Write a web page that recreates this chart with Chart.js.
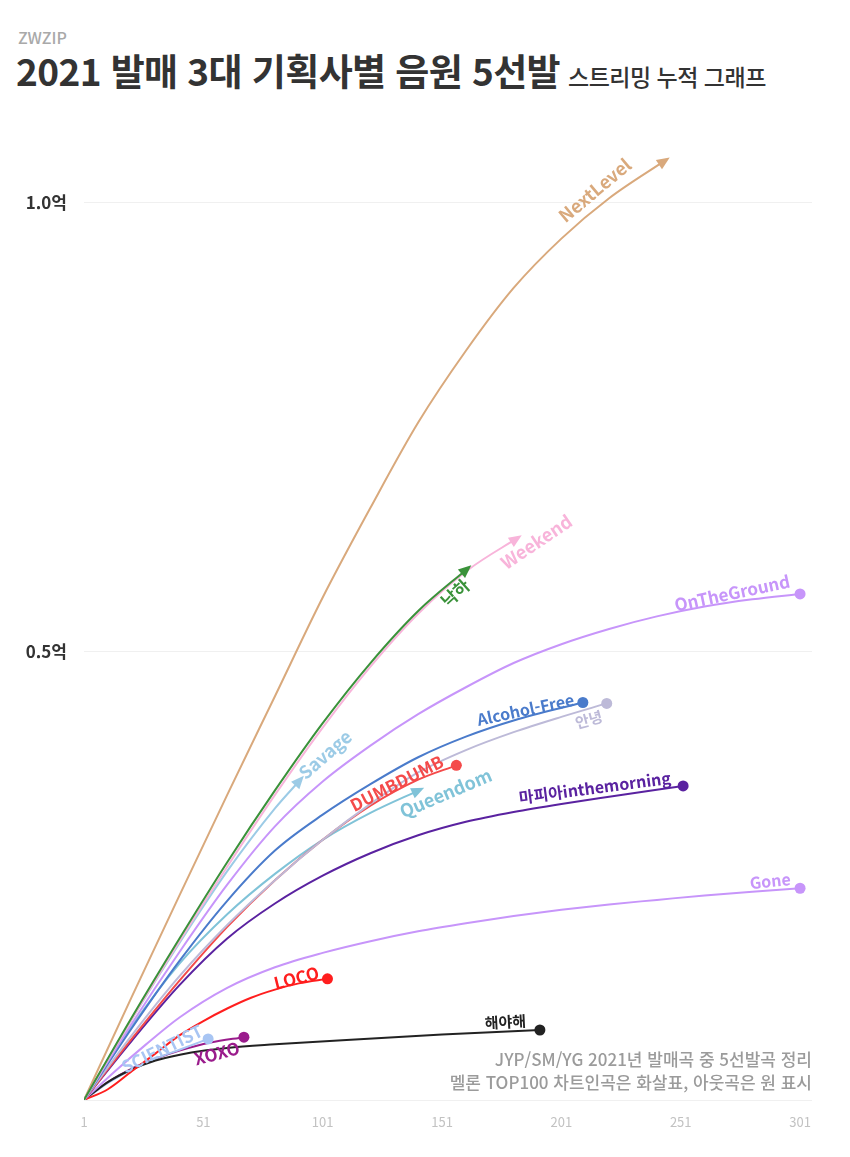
<!DOCTYPE html>
<html lang="ko">
<head>
<meta charset="utf-8">
<script src="https://cdn.jsdelivr.net/npm/chart.js@4.4.1/dist/chart.umd.min.js"></script>
<style>
  html, body { margin: 0; padding: 0; background: #fff; }
  body { width: 850px; height: 1157px; position: relative; overflow: hidden;
         font-family: 'Noto Sans CJK KR', 'Noto Sans', sans-serif; }
  #brand { position: absolute; left: 18px; top: 29px; font-size: 16px; line-height: 16px; font-weight: 500; color: #a9a9a9; }
  #title { position: absolute; left: 16px; top: 52px; font-size: 37px; line-height: 37px; font-weight: 700; color: #333; letter-spacing: -0.6px; white-space: nowrap; }
  #title span { font-size: 23px; font-weight: 500; margin-left: 8px; letter-spacing: -0.5px; }
  #note { position: absolute; right: 38px; top: 1047px; text-align: right; font-size: 17px; line-height: 23px; font-weight: 500; color: #9b9b9b; white-space: nowrap; }
  canvas { position: absolute; left: 0; top: 0; }
</style>
</head>
<body>
<div id="brand">ZWZIP</div>
<div id="title">2021 발매 3대 기획사별 음원 5선발<span>스트리밍 누적 그래프</span></div>
<canvas id="chart" width="850" height="1157"></canvas>
<div id="note">JYP/SM/YG 2021년 발매곡 중 5선발곡 정리<br>멜론 TOP100 차트인곡은 화살표, 아웃곡은 원 표시</div>
<script>
// 누적 스트리밍 (단위: 억) - [발매 후 일수, 누적값]
const nextLevel   = [[1,0],[21,0.115],[41,0.228],[61,0.34],[81,0.45],[101,0.56],[121,0.66],[141,0.755],[161,0.835],[181,0.905],[201,0.96],[221,1.005],[245,1.048]];
const nakha       = [[1,0],[21,0.092],[41,0.18],[61,0.265],[81,0.345],[101,0.42],[121,0.487],[141,0.545],[162,0.593]];
const weekend     = [[1,0],[21,0.09],[41,0.177],[61,0.26],[81,0.34],[101,0.415],[121,0.483],[141,0.542],[162,0.591],[183,0.627]];
const savage      = [[1,0],[21,0.09],[41,0.175],[61,0.255],[81,0.325],[92,0.358]];
const onTheGround = [[1,0],[21,0.085],[41,0.165],[61,0.24],[81,0.305],[101,0.355],[121,0.395],[141,0.43],[161,0.46],[181,0.487],[201,0.508],[221,0.525],[241,0.539],[261,0.55],[281,0.558],[301,0.564]];
const alcoholFree = [[1,0],[21,0.08],[41,0.155],[61,0.222],[81,0.278],[101,0.318],[121,0.352],[141,0.382],[161,0.405],[181,0.423],[210,0.443]];
const annyeong    = [[1,0],[21,0.072],[41,0.138],[61,0.195],[81,0.245],[101,0.29],[121,0.33],[141,0.365],[161,0.39],[181,0.41],[201,0.427],[220,0.442]];
const dumbdumb    = [[1,0],[21,0.068],[41,0.133],[61,0.193],[81,0.245],[101,0.29],[121,0.328],[141,0.357],[157,0.373]];
const queendom    = [[1,0],[21,0.082],[41,0.152],[61,0.207],[81,0.252],[101,0.29],[121,0.32],[142,0.346]];
const mafia       = [[1,0],[21,0.066],[41,0.128],[61,0.18],[81,0.219],[101,0.25],[121,0.275],[141,0.295],[161,0.31],[181,0.321],[201,0.33],[221,0.338],[252,0.35]];
const gone        = [[1,0],[14,0.032],[27,0.062],[41,0.092],[61,0.125],[81,0.148],[101,0.164],[121,0.177],[141,0.188],[161,0.197],[181,0.205],[201,0.212],[221,0.218],[241,0.223],[261,0.228],[281,0.232],[301,0.236]];
const loco        = [[1,0],[11,0.012],[21,0.032],[31,0.052],[41,0.072],[51,0.088],[61,0.102],[71,0.114],[81,0.123],[91,0.13],[103,0.135]];
const haeyahae    = [[1,0],[11,0.02],[21,0.034],[31,0.044],[46,0.053],[61,0.058],[81,0.062],[111,0.067],[151,0.073],[192,0.078]];
const scientist   = [[1,0],[11,0.019],[21,0.034],[31,0.046],[41,0.056],[53,0.068]];
const xoxo        = [[1,0],[11,0.02],[21,0.035],[31,0.046],[41,0.055],[54,0.064],[68,0.07]];

const xTicks = [1, 51, 101, 151, 201, 251, 301];
const yTicks = [0, 0.5, 1.0];
const yTickLabels = ['', '0.5억', '1.0억'];

// 곡 이름, 데이터, 색, 끝 표시(arrow = 차트인, dot = 아웃)
const songs = [
  { name: '낙하', data: nakha, color: '#3a923a', end: 'arrow' },
  { name: 'Weekend', data: weekend, color: '#f8b4da', end: 'arrow' },
  { name: 'NextLevel', data: nextLevel, color: '#d9a97c', end: 'arrow' },
  { name: 'Savage', data: savage, color: '#9ccbe6', end: 'arrow' },
  { name: 'OnTheGround', data: onTheGround, color: '#c795fa', end: 'dot' },
  { name: 'Alcohol-Free', data: alcoholFree, color: '#4a7bcb', end: 'dot' },
  { name: '안녕', data: annyeong, color: '#bdbad8', end: 'dot' },
  { name: 'DUMBDUMB', data: dumbdumb, color: '#f44a4a', end: 'dot' },
  { name: 'Queendom', data: queendom, color: '#80c3d8', end: 'arrow' },
  { name: '마피아inthemorning', data: mafia, color: '#5a22a0', end: 'dot' },
  { name: 'Gone', data: gone, color: '#c795fa', end: 'dot' },
  { name: 'LOCO', data: loco, color: '#ff1e1e', end: 'dot' },
  { name: '해야해', data: haeyahae, color: '#222222', end: 'dot' },
  { name: 'SCIENTIST', data: scientist, color: '#a8c5f3', end: 'dot' },
  { name: 'XOXO', data: xoxo, color: '#9a1c8c', end: 'dot' }
];

// 곡 이름 라벨 위치 (데이터 좌표) 과 기울기
const labelSpots = {
  'NextLevel': { at: [215, 1.014], angle: -40, size: 18 },
  'Weekend': { at: [190.5, 0.622], angle: -34, size: 18 },
  '낙하': { at: [156.5, 0.565], angle: -42, size: 17 },
  'OnTheGround': { at: [272.5, 0.565], angle: -12, size: 17 },
  'Alcohol-Free': { at: [186, 0.435], angle: -12, size: 16 },
  '안녕': { at: [212.5, 0.424], angle: -15, size: 15 },
  'Savage': { at: [102, 0.385], angle: -41, size: 18 },
  'DUMBDUMB': { at: [132, 0.353], angle: -27, size: 17 },
  'Queendom': { at: [152.5, 0.342], angle: -23, size: 18 },
  '마피아inthemorning': { at: [215, 0.348], angle: -7.5, size: 16 },
  'Gone': { at: [288.5, 0.244], angle: -6, size: 16 },
  'LOCO': { at: [90, 0.136], angle: -14, size: 17 },
  '해야해': { at: [177.5, 0.087], angle: -3, size: 15 },
  'SCIENTIST': { at: [33.7, 0.057], angle: -26, size: 17 },
  'XOXO': { at: [56.7, 0.052], angle: -15, size: 17 }
};

const FONT = "'Noto Sans CJK KR', 'Noto Sans', sans-serif";

const endMarks = {
  id: 'endMarks',
  afterDatasetsDraw(chart) {
    const ctx = chart.ctx;
    chart.data.datasets.forEach((ds, i) => {
      const pts = chart.getDatasetMeta(i).data;
      const p = pts[pts.length - 1];
      ctx.save();
      ctx.fillStyle = ds.borderColor;
      if (ds.endMark === 'dot') {
        ctx.beginPath();
        ctx.arc(p.x, p.y, 5.5, 0, Math.PI * 2);
        ctx.fill();
      } else {
        let cx = p.cp1x, cy = p.cp1y;
        if (cx === undefined || Math.hypot(p.x - cx, p.y - cy) < 0.5) {
          cx = pts[pts.length - 2].x; cy = pts[pts.length - 2].y;
        }
        const a = Math.atan2(p.y - cy, p.x - cx);
        ctx.translate(p.x, p.y);
        ctx.rotate(a);
        ctx.beginPath();
        ctx.moveTo(4, 0);
        ctx.lineTo(-9, -5.5);
        ctx.lineTo(-9, 5.5);
        ctx.closePath();
        ctx.fill();
      }
      ctx.restore();
    });
  }
};

const songLabels = {
  id: 'songLabels',
  afterDraw(chart) {
    const ctx = chart.ctx;
    const xs = chart.scales.x, ys = chart.scales.y;
    chart.data.datasets.forEach(ds => {
      const spot = labelSpots[ds.label];
      if (!spot) return;
      ctx.save();
      ctx.translate(xs.getPixelForValue(spot.at[0]), ys.getPixelForValue(spot.at[1]));
      ctx.rotate(spot.angle * Math.PI / 180);
      ctx.font = `700 ${spot.size}px ${FONT}`;
      ctx.fillStyle = ds.borderColor;
      ctx.textAlign = 'center';
      ctx.textBaseline = 'middle';
      ctx.fillText(ds.label, 0, 0);
      ctx.restore();
    });
  }
};

new Chart(document.getElementById('chart'), {
  type: 'line',
  data: {
    datasets: songs.map(s => ({
      label: s.name,
      data: s.data.map(([x, y]) => ({ x, y })),
      borderColor: s.color,
      backgroundColor: s.color,
      endMark: s.end,
      borderWidth: 2,
      pointRadius: 0,
      cubicInterpolationMode: 'monotone',
      fill: false
    }))
  },
  options: {
    responsive: false,
    animation: false,
    layout: { padding: { top: 113, right: 38, left: 0, bottom: 0 } },
    plugins: { legend: { display: false }, tooltip: { enabled: false } },
    scales: {
      x: {
        type: 'linear', min: 1, max: 306,
        afterBuildTicks: s => { s.ticks = xTicks.map(v => ({ value: v })); },
        afterFit: s => { s.height = 57; },
        grid: { display: false },
        border: { display: false },
        ticks: { color: '#c2c2c2', font: { size: 13, family: FONT }, padding: 6, maxRotation: 0 }
      },
      y: {
        min: 0, max: 1.1,
        afterBuildTicks: s => { s.ticks = yTicks.map(v => ({ value: v })); },
        afterFit: s => { s.width = 84; },
        grid: { color: '#f0f0f0', drawTicks: false },
        border: { display: false },
        ticks: {
          color: '#333',
          font: { size: 17, weight: '600', family: FONT },
          padding: 17,
          callback: (v) => yTickLabels[yTicks.indexOf(v)]
        }
      }
    }
  },
  plugins: [endMarks, songLabels]
});
</script>
</body>
</html>
